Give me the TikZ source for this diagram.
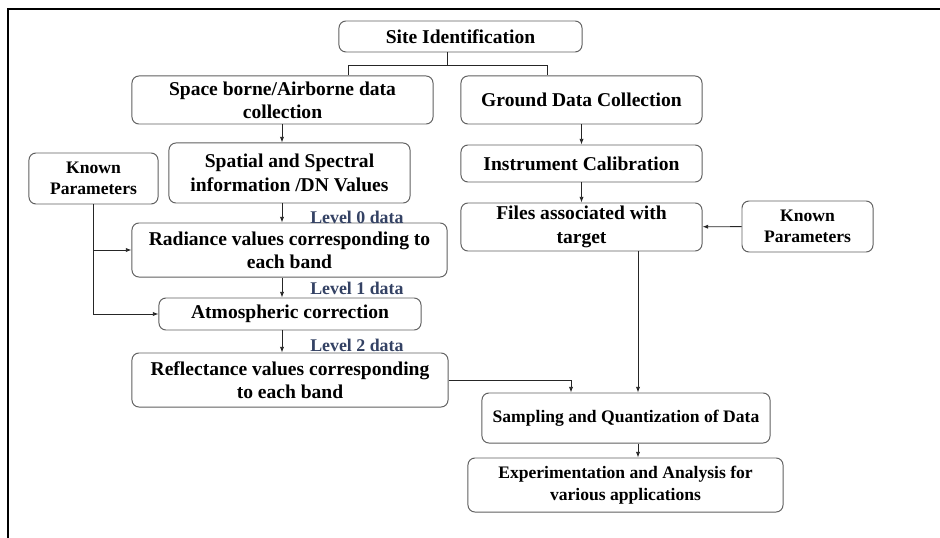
\documentclass[tikz,border=0pt]{standalone}
\usepackage{fontspec}
\setmainfont{Liberation Serif}
\usetikzlibrary{arrows.meta}

\definecolor{edgegray}{RGB}{95,95,95}
\definecolor{levelblue}{RGB}{52,66,100}

\tikzset{
    box/.style={draw=edgegray, line width=0.7pt, rounded corners=5pt, align=center, inner sep=0pt,
        font=\fontsize{13.9}{16.6}\selectfont\bfseries},
    smallbox/.style={box, font=\fontsize{12.5}{15.4}\selectfont\bfseries},
    arr/.style={draw=black!85, line width=0.6pt, -{Latex[length=4pt,width=3pt]}},
    link/.style={draw=black!85, line width=0.6pt},
    lvl/.style={text=levelblue, inner sep=0pt, anchor=west,
        font=\fontsize{12.7}{15}\selectfont\bfseries},
}

\begin{document}
\begin{tikzpicture}[x=0.025cm, y=-0.025cm]
    \useasboundingbox ( 0, 0 ) rectangle ( 940, 538 );

    % рамка
    \draw [line width=1.4pt] ( 8, 538 ) -- ( 8, 9 ) -- ( 940, 9 );

    % верх
    \node [box, minimum width=6.075cm, minimum height=0.775cm] (site) at ( 460.5, 36.5 ) {Site Identification};
    \node [box, minimum width=7.525cm, minimum height=1.2cm] (space) at ( 282.5, 100 ) {Space borne/Airborne data\\collection};
    \node [box, minimum width=6.025cm, minimum height=1.2cm] (ground) at ( 581.5, 100 ) {Ground Data Collection};

    % левая ветка
    \node [box, minimum width=6.025cm, minimum height=1.5cm] (spatial) at ( 289.5, 173 ) {Spatial and Spectral\\information /DN Values};
    \node [smallbox, minimum width=3.225cm, minimum height=1.275cm] (knownL) at ( 93.5, 178.5 ) {Known\\Parameters};
    \node [box, minimum width=7.875cm, minimum height=1.35cm] (radiance) at ( 289.5, 250 ) {Radiance values corresponding to\\each band};
    \node [box, minimum width=6.55cm, minimum height=0.8cm] (atmos) at ( 290, 314 ) {Atmospheric correction};
    \node [box, minimum width=7.9cm, minimum height=1.35cm] (reflect) at ( 290, 380 ) {Reflectance values corresponding\\to each band};

    \node [lvl] (lvl0) at ( 310, 217 ) {Level 0 data};
    \node [lvl] (lvl1) at ( 310, 288 ) {Level 1 data};
    \node [lvl] (lvl2) at ( 310, 345 ) {Level 2 data};

    % правая ветка
    \node [box, minimum width=6.025cm, minimum height=0.925cm] (calib) at ( 581.5, 163.5 ) {Instrument Calibration};
    \node [box, minimum width=6.025cm, minimum height=1.2cm] (files) at ( 581.5, 227 ) {Files associated with\\target};
    \node [smallbox, minimum width=3.275cm, minimum height=1.275cm] (knownR) at ( 807.5, 226.5 ) {Known\\Parameters};

    % низ
    \node [smallbox, minimum width=7.2cm, minimum height=1.25cm] (sampling) at ( 626, 418 ) {Sampling and Quantization of Data};
    \node [smallbox, minimum width=7.875cm, minimum height=1.35cm] (exper) at ( 625.5, 485 ) {Experimentation and Analysis for\\various applications};

    % развилка
    \coordinate (split) at ( 447, 65 );
    \coordinate (bl) at ( 348, 65 );
    \coordinate (br) at ( 547, 65 );
    \draw [link] (split |- site.south) -- (split);
    \draw [link] (bl |- space.north) -- (bl) -- (br) -- (br |- ground.north);

    % стрелки слева
    \coordinate (lcol) at ( 282, 0 );
    \draw [arr] (lcol |- space.south) -- (lcol |- spatial.north);
    \draw [arr] (lcol |- spatial.south) -- (lcol |- radiance.north);
    \draw [arr] (lcol |- radiance.south) -- (lcol |- atmos.north);
    \draw [arr] (lcol |- atmos.south) -- (lcol |- reflect.north);
    \draw [arr] (knownL.south) |- (radiance.west);
    \draw [arr] (knownL.south) |- (atmos.west);

    % стрелки справа
    \draw [arr] (ground) -- (calib);
    \draw [arr] (calib) -- (files);
    \draw [arr] (knownR) -- (files);

    % к выборке
    \coordinate (fdrop) at ( 638, 0 );
    \coordinate (rdrop) at ( 571, 0 );
    \draw [arr] (fdrop |- files.south) -- (fdrop |- sampling.north);
    \draw [arr] (reflect.east) -| (rdrop |- sampling.north);
    \draw [arr] (fdrop |- sampling.south) -- (fdrop |- exper.north);
\end{tikzpicture}
\end{document}
